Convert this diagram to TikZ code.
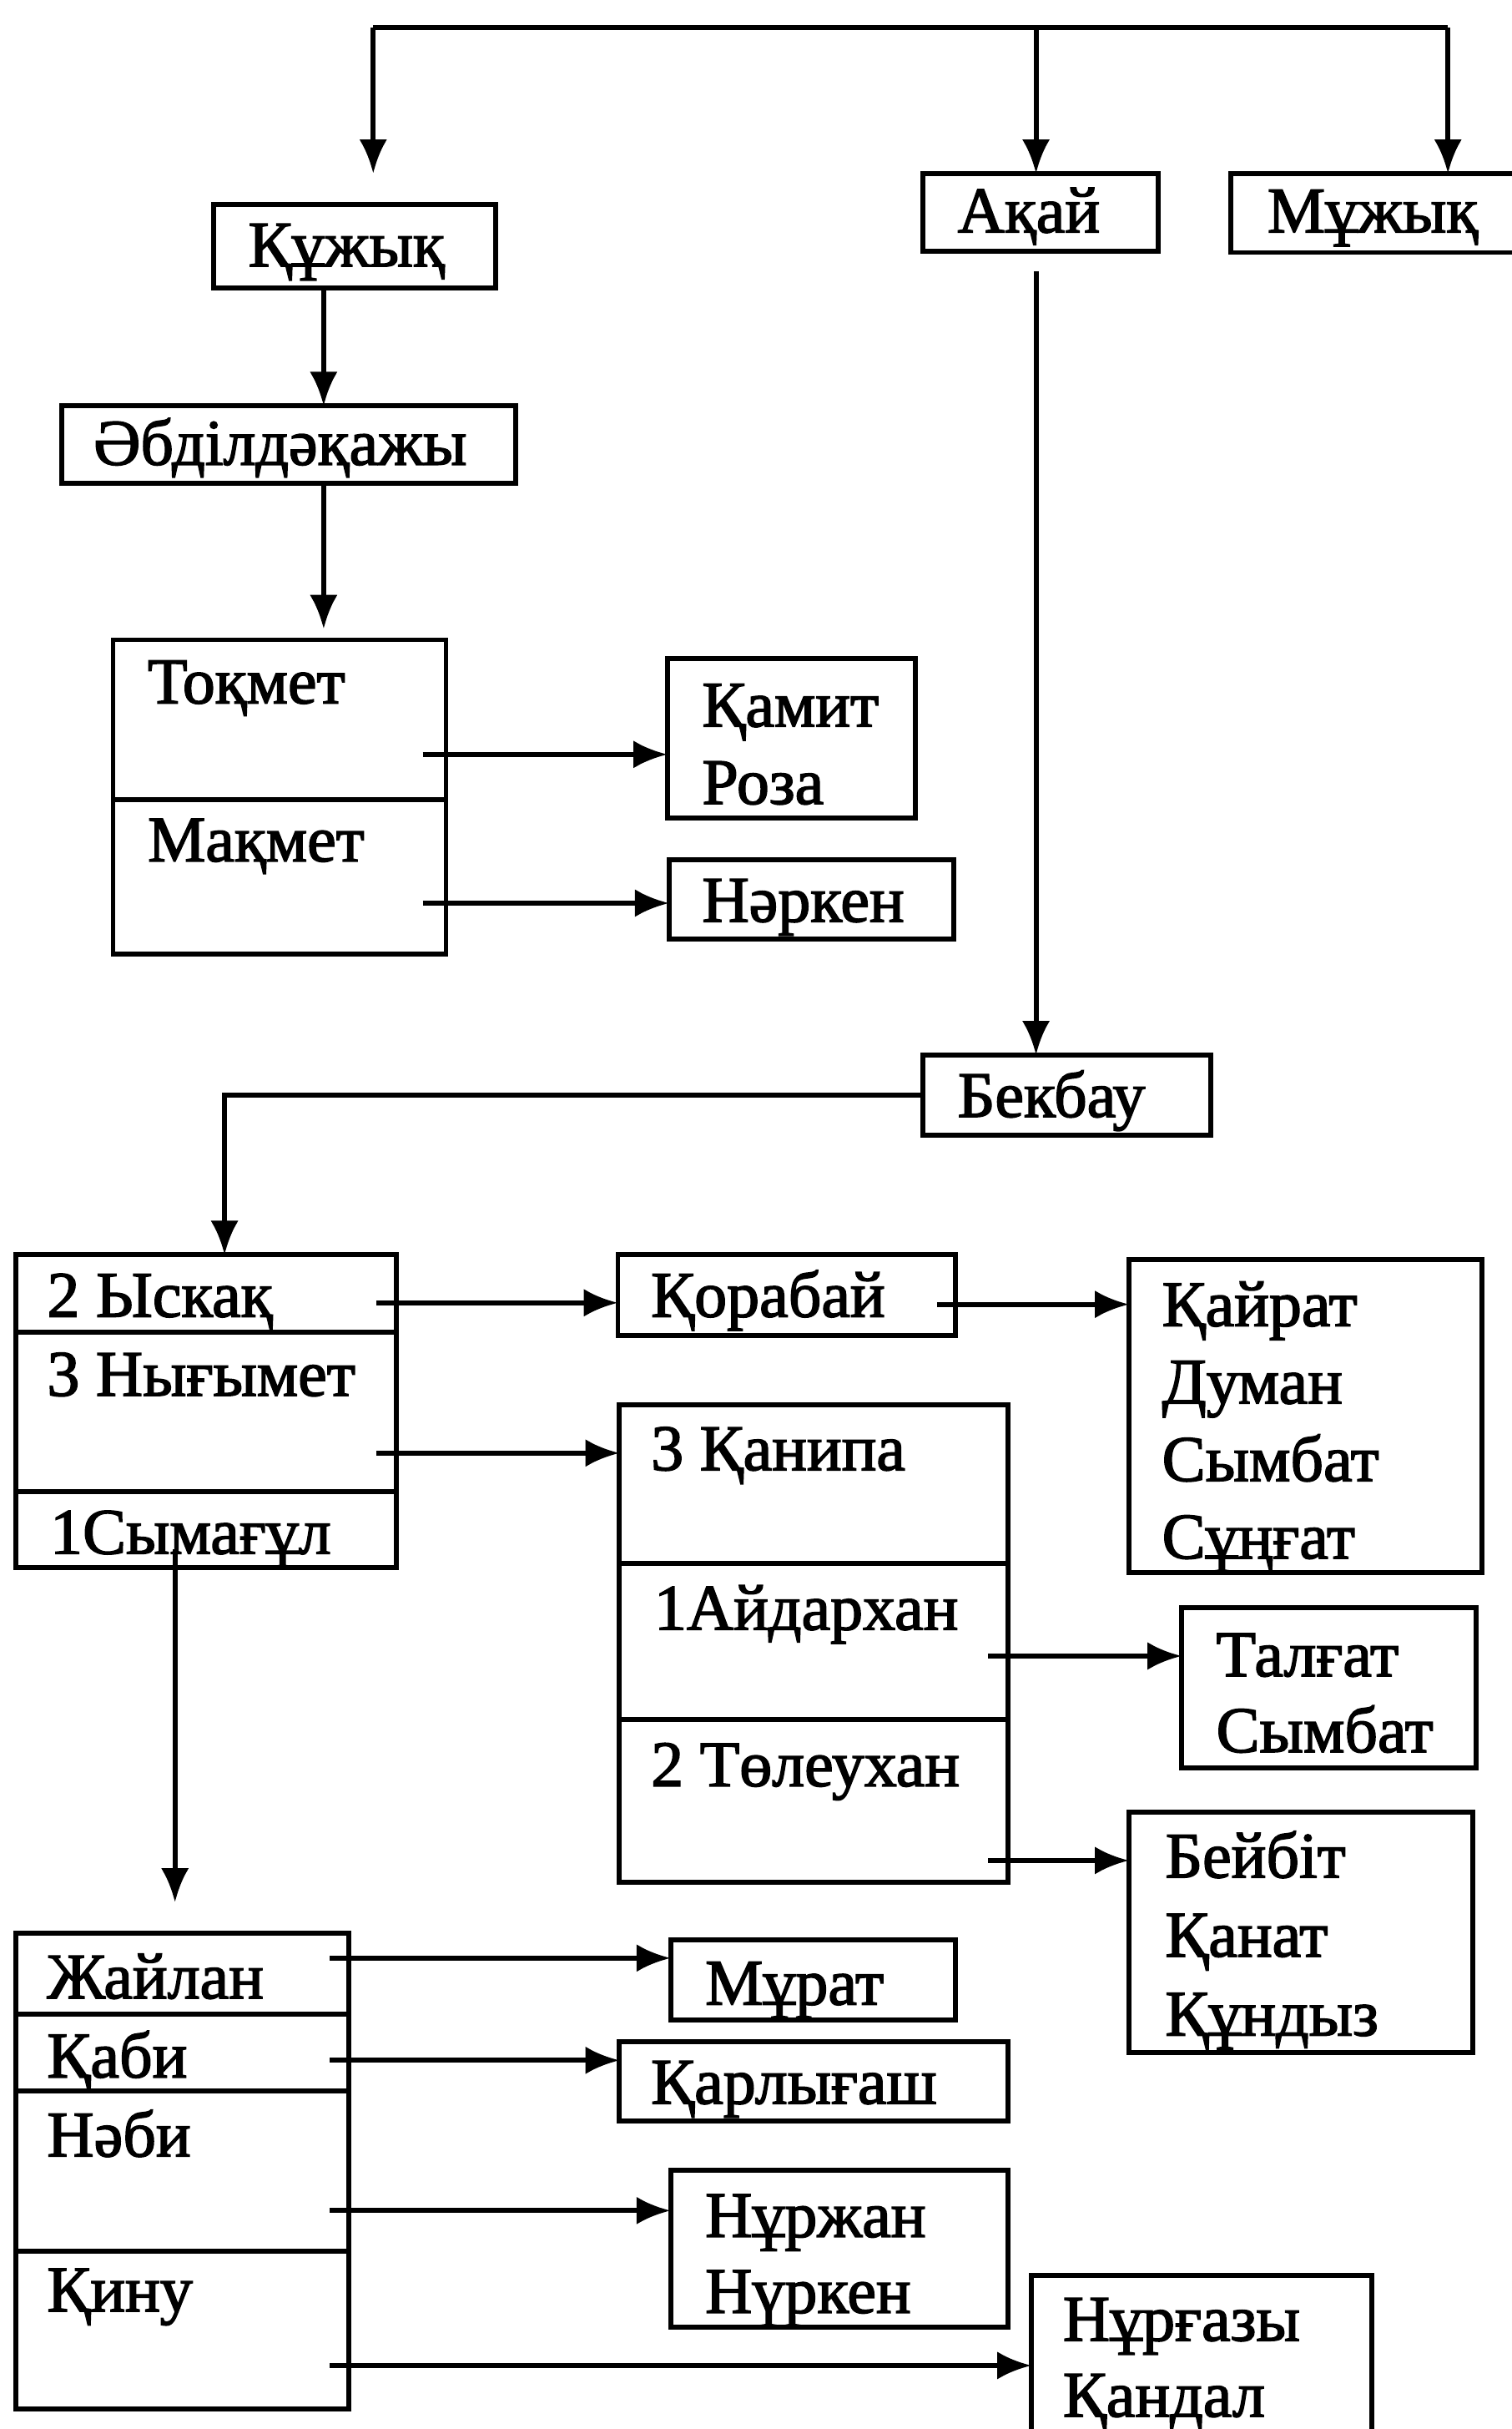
\documentclass[tikz,border=0pt]{standalone}
\usepackage{fontspec}
\newfontfamily\kzfont{Liberation Serif}[FakeBold=2]
\usetikzlibrary{arrows.meta}
\newcommand{\mkbox}[5]{\node[box, minimum width={(#4-#2)*0.5pt}, minimum height={(#5-#3)*0.5pt}] (#1) at ({(#2+#4)/2},{(#3+#5)/2}) {};}
\newcommand{\tx}[4]{\node[txt] (#1) at (#2,#3) {#4};}
\begin{document}
\begin{tikzpicture}[x=0.5pt,y=-0.5pt,
  box/.style={draw, line width=1.6pt, inner sep=0pt, outer sep=0pt},
  txt/.style={anchor=base west, inner sep=0pt, font=\kzfont\fontsize{21}{25}\selectfont},
  conn/.style={line width=1.6pt},
  arr/.style={conn, -{Latex[length=11pt,width=9pt]}}]
\useasboundingbox (0,0) rectangle (976,1568);

% boxes
\mkbox{kuz}{138}{132}{320}{186}
\mkbox{abd}{40}{262}{333}{312}
\mkbox{akai}{596}{112}{748}{162}
\mkbox{muz}{795}{112}{990}{163}
\mkbox{tok}{73}{413}{288}{516}
\mkbox{mak}{73}{516}{288}{616}
\mkbox{kam}{431}{425}{591}{528}
\mkbox{nar}{432}{555}{616}{606}
\mkbox{bek}{596}{681}{782}{733}
\mkbox{isk}{10}{810}{256}{860}
\mkbox{nyg}{10}{860}{256}{963}
\mkbox{sym}{10}{963}{256}{1012}
\mkbox{kor}{399}{810}{617}{862}
\mkbox{kai}{729}{813}{957}{1015}
\mkbox{kan}{400}{907}{651}{1009}
\mkbox{aid}{400}{1009}{651}{1110}
\mkbox{tol}{400}{1110}{651}{1215}
\mkbox{tal}{763}{1038}{953}{1141}
\mkbox{bey}{729}{1170}{951}{1325}
\mkbox{zha}{10}{1248}{225}{1300}
\mkbox{kab}{10}{1300}{225}{1350}
\mkbox{nab}{10}{1350}{225}{1453}
\mkbox{kin}{10}{1453}{225}{1555}
\mkbox{mur}{433}{1252}{617}{1304}
\mkbox{kar}{400}{1318}{651}{1369}
\mkbox{nrj}{433}{1401}{651}{1502}
\mkbox{nug}{666}{1469}{886}{1585}

% texts
\tx{tkuz}{160}{172}{Құжық}
\tx{takai}{618}{150}{Ақай}
\tx{tmuz}{818}{150}{Мұжық}
\tx{tabd}{60}{300}{Әбділдәқажы}
\tx{ttok}{95}{454}{Тоқмет}
\tx{tmak}{95}{556}{Мақмет}
\tx{tkam1}{453}{469}{Қамит}
\tx{tkam2}{453}{519}{Роза}
\tx{tnar}{453}{595}{Нәркен}
\tx{tbek}{618}{721}{Бекбау}
\tx{tisk}{30}{850}{2 Ыскақ}
\tx{tnyg}{30}{901}{3 Нығымет}
\tx{tsym}{32}{1003}{1Сымағұл}
\tx{tkor}{420}{850}{Қорабай}
\tx{tkai1}{750}{856}{Қайрат}
\tx{tkai2}{750}{906}{Думан}
\tx{tkai3}{750}{956}{Сымбат}
\tx{tkai4}{750}{1006}{Сұңғат}
\tx{tkan}{420}{949}{3 Қанипа}
\tx{taid}{422}{1052}{1Айдархан}
\tx{ttol}{420}{1153}{2 Төлеухан}
\tx{ttal1}{785}{1082}{Талғат}
\tx{ttal2}{785}{1131}{Сымбат}
\tx{tbey1}{752}{1212}{Бейбіт}
\tx{tbey2}{752}{1263}{Қанат}
\tx{tbey3}{752}{1314}{Құндыз}
\tx{tzha}{30}{1290}{Жайлан}
\tx{tkab}{30}{1341}{Қаби}
\tx{tnab}{30}{1392}{Нәби}
\tx{tkin}{30}{1492}{Қину}
\tx{tmur}{455}{1294}{Мұрат}
\tx{tkar}{420}{1358}{Қарлығаш}
\tx{tnrj1}{455}{1444}{Нұржан}
\tx{tnrj2}{455}{1493}{Нүркен}
\tx{tnug1}{686}{1511}{Нұрғазы}
\tx{tnug2}{686}{1560}{Қандал}

% coordinates for connector ends
\coordinate (tl) at (241,18);
\coordinate (tr) at (935,18);
\coordinate (kuzin) at (241,112);
\coordinate (akx) at (669,18);
\coordinate (akb) at (669,175);
\coordinate (k1) at (209,186);
\coordinate (k2) at (209,312);
\coordinate (k2e) at (209,406);
\coordinate (bk) at (145,707);
\coordinate (s1) at (273,487);
\coordinate (s2) at (273,583);
\coordinate (s3) at (243,841);
\coordinate (s4) at (605,842);
\coordinate (s5) at (243,938);
\coordinate (s6) at (638,1069);
\coordinate (s7) at (638,1201);
\coordinate (sy) at (113,1000);
\coordinate (sye) at (113,1228);
\coordinate (s9) at (213,1264);
\coordinate (s10) at (213,1330);
\coordinate (s11) at (213,1427);
\coordinate (s12) at (213,1527);

% connectors
\draw[conn] (tl) -- (tr);
\draw[arr] (tl) -- (kuzin);
\draw[arr] (akx) -- (akx |- akai.north);
\draw[arr] (tr) -- (tr |- muz.north);
\draw[arr] (k1) -- (k1 |- abd.north);
\draw[arr] (k2) -- (k2e);
\draw[arr] (s1) -- (s1 -| kam.west);
\draw[arr] (s2) -- (s2 -| nar.west);
\draw[arr] (akb) -- (akb |- bek.north);
\draw[arr] (bek.west) -- (bk) -- (bk |- isk.north);
\draw[arr] (s3) -- (s3 -| kor.west);
\draw[arr] (s4) -- (s4 -| kai.west);
\draw[arr] (s5) -- (s5 -| kan.west);
\draw[arr] (s6) -- (s6 -| tal.west);
\draw[arr] (s7) -- (s7 -| bey.west);
\draw[arr] (sy) -- (sye);
\draw[arr] (s9) -- (s9 -| mur.west);
\draw[arr] (s10) -- (s10 -| kar.west);
\draw[arr] (s11) -- (s11 -| nrj.west);
\draw[arr] (s12) -- (s12 -| nug.west);
\end{tikzpicture}
\end{document}
